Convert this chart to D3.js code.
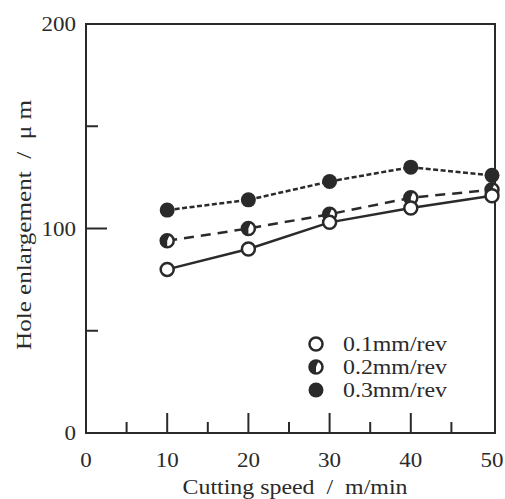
<!DOCTYPE html>
<html lang="en">
<head>
  <meta charset="UTF-8">
  <title>Hole enlargement vs cutting speed</title>
  <script src="https://d3js.org/d3.v7.min.js"></script>
  <style>
    body { margin: 0; background: #fff; }
    svg { display: block; font-family: "Liberation Serif", "DejaVu Serif", serif; }
  </style>
</head>
<body>
  <div id="chart"></div>
  <script>
    // data
    const speeds = [10, 20, 30, 40, 50];
    const feed01 = [80, 90, 103, 110, 116];
    const feed02 = [94, 100, 107, 115, 119];
    const feed03 = [109, 114, 123, 130, 126];
    const seriesNames = ["0.1mm/rev", "0.2mm/rev", "0.3mm/rev"];
    const xMajorTicks = [0, 10, 20, 30, 40, 50];
    const yTickLabels = [0, 100, 200];

    const width = 505, height = 499;
    const ink = "#2a2a2a";

    const svg = d3.select("#chart").append("svg")
      .attr("width", width)
      .attr("height", height);

    const x = d3.scaleLinear().domain([0, 50]).range([86, 492]);
    const y = d3.scaleLinear().domain([0, 200]).range([433, 24]);

    // frame
    svg.append("rect")
      .attr("x", x(0)).attr("y", y(200))
      .attr("width", 495 - x(0)).attr("height", y(0) - y(200))
      .attr("fill", "none").attr("stroke", ink).attr("stroke-width", 2);

    // inward ticks on x (major 10s, minor 5s)
    const xTicks = d3.range(5, 50, 5);
    svg.append("g").selectAll("line")
      .data(xTicks)
      .join("line")
      .attr("x1", d => x(d)).attr("x2", d => x(d))
      .attr("y1", y(0))
      .attr("y2", d => y(0) - (d % 10 === 0 ? 20 : 11))
      .attr("stroke", ink).attr("stroke-width", 2);

    // inward ticks on y
    svg.append("g").selectAll("line")
      .data([50, 100, 150])
      .join("line")
      .attr("x1", x(0))
      .attr("x2", d => x(0) + (d === 100 ? 21 : 12))
      .attr("y1", d => y(d)).attr("y2", d => y(d))
      .attr("stroke", ink).attr("stroke-width", 2);

    // tick labels (the original face is a wide serif, so stretch a little)
    svg.append("g").selectAll("text")
      .data(xMajorTicks)
      .join("text")
      .attr("x", d => x(d)).attr("y", 467)
      .attr("text-anchor", "middle")
      .attr("font-size", 20).attr("fill", ink)
      .attr("textLength", d => String(d).length * 11.5)
      .attr("lengthAdjust", "spacingAndGlyphs")
      .text(d => d);

    svg.append("g").selectAll("text")
      .data(yTickLabels)
      .join("text")
      .attr("x", 76).attr("y", d => y(d))
      .attr("dy", "0.35em")
      .attr("text-anchor", "end")
      .attr("font-size", 20).attr("fill", ink)
      .attr("textLength", d => String(d).length * 11.5)
      .attr("lengthAdjust", "spacingAndGlyphs")
      .text(d => d);

    // axis titles
    svg.append("text")
      .attr("x", 295).attr("y", 494)
      .attr("text-anchor", "middle")
      .attr("font-size", 20).attr("fill", ink)
      .attr("xml:space", "preserve")
      .attr("textLength", 225)
      .attr("lengthAdjust", "spacingAndGlyphs")
      .text("Cutting speed  /  m/min");

    svg.append("text")
      .attr("transform", "translate(31,225) rotate(-90)")
      .attr("text-anchor", "middle")
      .attr("font-size", 20).attr("fill", ink)
      .attr("xml:space", "preserve")
      .attr("textLength", 250)
      .attr("lengthAdjust", "spacingAndGlyphs")
      .text("Hole enlargement  /  \u03bc m");

    // lines
    const line = d3.line().x((d, i) => x(speeds[i])).y(d => y(d));
    const dashes = [null, "10,7", "5,2.5"];
    const allSeries = [feed01, feed02, feed03];

    svg.append("g").selectAll("path")
      .data(allSeries)
      .join("path")
      .attr("d", line)
      .attr("fill", "none")
      .attr("stroke", ink)
      .attr("stroke-width", 2.5)
      .attr("stroke-dasharray", (d, i) => dashes[i]);

    // markers
    const r = 6.5;
    function drawMarker(g, kind) {
      if (kind === 0) {
        g.append("circle").attr("r", r).attr("fill", "#fff")
          .attr("stroke", ink).attr("stroke-width", 2.5);
      } else if (kind === 1) {
        g.append("circle").attr("r", r).attr("fill", "#fff")
          .attr("stroke", ink).attr("stroke-width", 2.5);
        g.append("path")
          .attr("d", d3.arc()({ innerRadius: 0, outerRadius: r, startAngle: Math.PI, endAngle: 2 * Math.PI + 0.4 }))
          .attr("fill", ink);
      } else {
        g.append("circle").attr("r", r + 1).attr("fill", ink);
      }
    }

    // draw order: 0.3 first, then 0.2, then 0.1 on top
    [2, 1, 0].forEach(k => {
      allSeries[k].forEach((v, i) => {
        const g = svg.append("g").attr("transform", `translate(${x(speeds[i])},${y(v)})`);
        drawMarker(g, k);
      });
    });

    // legend
    const legend = svg.append("g");
    seriesNames.forEach((name, k) => {
      const ly = 344 + k * 23;
      const g = legend.append("g").attr("transform", `translate(316,${ly})`);
      drawMarker(g, k);
      legend.append("text")
        .attr("x", 343).attr("y", ly)
        .attr("dy", "0.35em")
        .attr("font-size", 20).attr("fill", ink)
        .attr("textLength", 104)
        .attr("lengthAdjust", "spacingAndGlyphs")
        .text(name);
    });
  </script>
</body>
</html>
